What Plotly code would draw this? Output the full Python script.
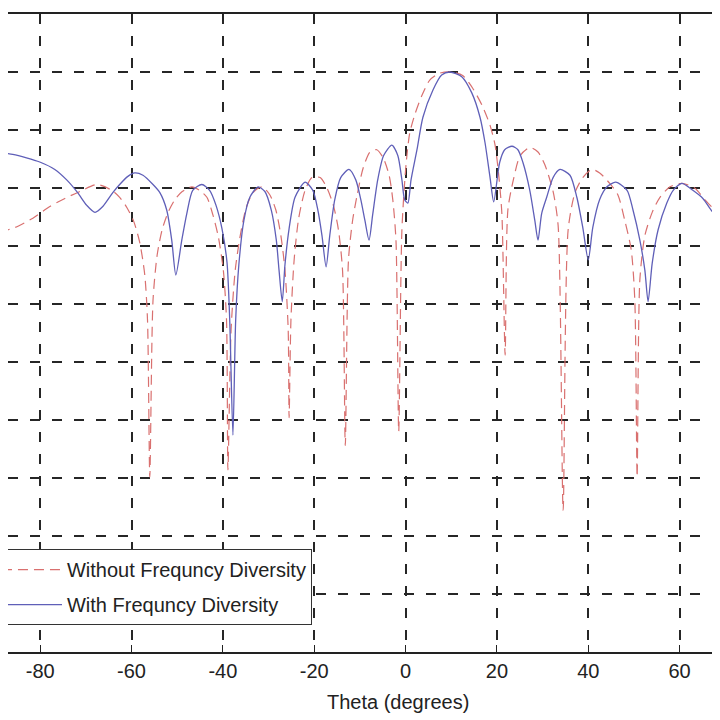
import plotly.graph_objects as go

# Array factor, with frequency diversity (blue)
theta_fd = [-88.8, -86.0, -83.0, -80.1, -76.8, -74.2, -71.8, -69.8, -68.0, -66.3,
            -64.1, -62.6, -60.8, -59.3, -57.5, -55.3, -53.8, -52.3, -51.2, -50.3,
            -49.0, -47.9, -46.6, -44.6, -42.9, -41.5, -40.2, -39.1, -38.5, -37.8,
            -37.2, -36.5, -35.4, -34.1, -32.3, -30.8, -29.4, -28.3, -27.7, -27.0,
            -26.4, -25.5, -24.2, -22.0, -20.3, -19.2, -18.3, -17.4, -16.6, -15.5,
            -14.2, -12.4, -10.9, -9.8, -8.9, -8.0, -7.2, -6.1, -4.8, -3.0,
            -1.7, -0.8, -0.2, 0.5, 1.2, 2.5, 3.8, 6.0, 7.9, 9.7,
            12.3, 14.5, 16.3, 17.4, 18.5, 19.3, 20.6, 21.7, 23.3, 24.6,
            25.7, 27.2, 28.3, 29.0, 29.8, 30.9, 32.3, 33.8, 36.0, 37.5,
            38.8, 40.0, 41.0, 42.5, 44.1, 46.0, 48.5, 49.8, 51.3, 52.4,
            53.1, 54.0, 55.3, 57.2, 58.6, 60.5, 62.9, 65.1, 67.3, 68.8, 71.0]
af_fd = [-6.95, -7.1, -7.4, -7.76, -8.4, -9.3, -10.4, -11.5, -12.1, -11.6,
         -10.4, -9.7, -9.0, -8.7, -8.9, -9.7, -10.4, -11.9, -14.5, -17.5,
         -14.5, -12.2, -10.2, -9.7, -10.2, -11.5, -13.5, -16.4, -21.4, -31.3,
         -21.4, -16.6, -12.8, -10.8, -9.9, -10.3, -11.9, -14.5, -17.1, -19.8,
         -16.6, -13.5, -10.8, -9.5, -10.2, -11.9, -14.1, -16.8, -14.1, -11.0,
         -9.1, -8.4, -9.3, -11.0, -12.8, -14.5, -12.3, -9.3, -7.2, -6.3,
         -7.2, -9.3, -11.0, -11.3, -9.3, -6.7, -3.9, -1.55, -0.26, 0.0,
         -0.4, -1.8, -3.9, -6.1, -9.1, -11.2, -7.8, -6.7, -6.4, -6.7,
         -7.8, -10.2, -12.8, -14.5, -12.2, -10.8, -9.1, -8.4, -8.9, -10.8,
         -13.4, -16.2, -13.4, -11.0, -9.9, -9.5, -10.2, -11.9, -14.5, -17.1,
         -19.8, -16.5, -13.6, -11.3, -10.2, -9.6, -10.2, -10.9, -12.1, -12.5, -13.4]

# Array factor, without frequency diversity (red dashed)
theta_nofd = [-88.8, -85.5, -81.6, -77.9, -74.6, -71.3, -67.6, -64.3, -62.6, -61.0,
              -59.5, -58.2, -57.1, -56.5, -56.0, -55.3, -54.4, -53.3, -52.0, -50.5,
              -48.9, -46.8, -45.1, -43.5, -42.2, -41.0, -39.9, -39.2, -38.9, -38.2,
              -37.3, -36.2, -34.9, -33.4, -31.4, -29.7, -28.4, -27.3, -26.4, -25.7,
              -25.5, -25.1, -24.4, -23.4, -22.0, -20.5, -18.7, -17.2, -15.8, -14.7,
              -13.8, -13.2, -12.5, -11.6, -10.6, -9.3, -7.8, -6.3, -4.9, -3.6,
              -2.8, -2.1, -1.5, -0.8, 0.1, 0.9, 2.0, 3.6, 5.3, 7.5,
              10.1, 12.5, 14.7, 16.9, 18.5, 19.6, 20.5, 21.1, 21.8, 22.4,
              23.6, 25.1, 27.2, 29.0, 30.5, 32.3, 33.4, 34.5, 35.6, 37.1,
              38.8, 40.8, 42.5, 44.7, 46.5, 48.0, 49.4, 50.2, 50.7, 51.3,
              52.4, 54.0, 55.7, 57.9, 60.5, 63.3, 65.5, 67.7, 68.8, 71.0]
af_nofd = [-13.8, -13.4, -12.6, -11.6, -10.9, -10.3, -9.7, -10.2, -10.8, -11.7,
           -12.9, -14.7, -17.5, -21.4, -34.9, -19.7, -15.8, -13.6, -12.1, -11.0,
           -10.3, -9.9, -10.2, -10.8, -12.3, -14.2, -17.1, -21.4, -34.3, -22.2,
           -17.1, -14.1, -11.7, -10.4, -9.9, -10.6, -11.9, -14.1, -17.1, -22.2,
           -29.8, -21.4, -16.2, -12.6, -10.2, -9.1, -9.1, -10.0, -11.5, -13.6,
           -17.1, -32.2, -16.2, -12.8, -10.6, -8.3, -6.9, -6.7, -7.4, -8.9,
           -11.0, -14.5, -31.0, -13.6, -8.0, -5.3, -3.7, -2.0, -0.7, -0.1,
           0.0, -0.3, -1.4, -3.0, -4.6, -6.3, -9.3, -12.3, -24.4, -11.9,
           -9.3, -7.2, -6.5, -6.9, -8.0, -10.3, -13.2, -37.8, -13.6, -10.4,
           -9.1, -8.4, -8.7, -9.6, -10.6, -12.8, -15.3, -19.7, -34.9, -17.9,
           -14.1, -12.1, -10.8, -9.9, -9.6, -10.0, -11.0, -11.9, -12.4, -13.3]

x_ticks = [-80, -60, -40, -20, 0, 20, 40, 60]
x_ticktext = ["-80", "-60", "-40", "-20", "0", "20", "40", "60"]
y_ticks = [-50, -45, -40, -35, -30, -25, -20, -15, -10, -5, 0, 5]

font = "Liberation Sans, Arial, sans-serif"

fig = go.Figure()
fig.add_trace(go.Scatter(x=theta_nofd, y=af_nofd, mode="lines",
                         name="Without Frequncy Diversity", legendgroup="a",
                         line=dict(color="#d9706f", width=1.2, dash="10px,6px",
                                   shape="spline", smoothing=0.7)))
fig.add_trace(go.Scatter(x=theta_fd, y=af_fd, mode="lines",
                         name="With Frequncy Diversity", legendgroup="b",
                         line=dict(color="#5f5fb8", width=1.3,
                                   shape="spline", smoothing=0.7)))

fig.update_layout(
    width=720, height=720,
    margin=dict(l=0, r=0, t=6, b=76, autoexpand=False),
    paper_bgcolor="white", plot_bgcolor="white",
    font=dict(family=font, size=20, color="#222"),
    showlegend=True,
    legend=dict(x=-0.0167, y=0.1614, xanchor="left", yanchor="top",
                bgcolor="white", bordercolor="#333", borderwidth=1,
                traceorder="grouped", tracegroupgap=6, itemwidth=60,
                font=dict(family=font, size=20, color="#222")),
    annotations=[dict(text="Theta (degrees)", xref="paper", yref="paper",
                      x=0.5417, y=-0.078, xanchor="center", yanchor="middle",
                      showarrow=False, font=dict(family=font, size=20, color="#222"))],
)
fig.update_xaxes(range=[-87.05, 70.6], tickvals=x_ticks, ticktext=x_ticktext,
                 showgrid=True, gridcolor="#262626", gridwidth=1.6, griddash="10px,12px",
                 showline=True, linecolor="#222", linewidth=1.5, mirror="ticks",
                 ticks="inside", ticklen=7, tickwidth=1.3, tickcolor="#222",
                 zeroline=False, tickfont=dict(size=20))
fig.update_yaxes(range=[-50, 5], tickvals=y_ticks, showticklabels=False,
                 showgrid=True, gridcolor="#262626", gridwidth=1.6, griddash="10px,12px",
                 showline=False, zeroline=False, ticks="")

fig.write_html("out.html")
